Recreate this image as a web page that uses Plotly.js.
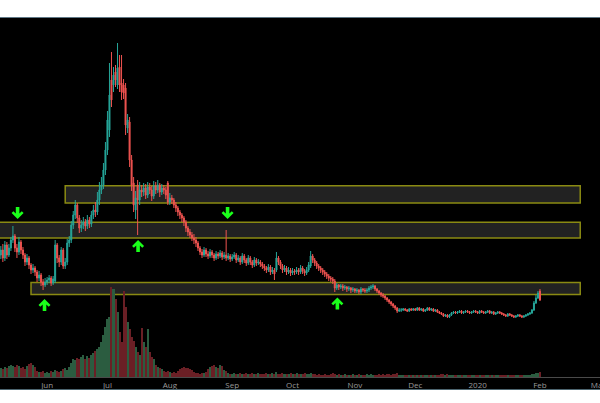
<!DOCTYPE html>
<html>
<head>
<meta charset="utf-8">
<script src="https://cdn.plot.ly/plotly-3.0.1.min.js"></script>
<style>
html,body{margin:0;padding:0;background:#ffffff;width:600px;height:403px;overflow:hidden;}
#frame{position:absolute;left:0;top:17px;width:600px;height:373px;box-sizing:border-box;border-top:1px solid #5f7886;border-bottom:1px solid #4d6670;background:#000;}
#chart{width:600px;height:371px;}
</style>
</head>
<body>
<div id="frame"><div id="chart"></div></div>
<script>
// ---- data (daily candles from 2019-05-09) ----
const startDate = '2019-05-09';
const opens = [
122,127,119,132,122,129,137,141,129,125,
135,127,122,115,119,112,107,109,105,99,
102,95,92,95,97,99,94,96,132,119,
115,127,111,115,134,137,152,162,172,159,
149,152,155,151,157,153,162,167,165,177,
187,192,207,227,247,297,292,305,292,310,
294,292,289,249,255,217,194,167,192,177,
187,185,189,182,190,187,181,191,187,192,
185,189,187,194,175,179,177,172,169,165,
162,159,155,149,145,142,139,137,134,129,
125,122,127,123,121,125,122,119,123,121,
124,120,122,119,121,118,120,122,117,119,
115,121,117,114,119,115,112,117,114,115,
113,111,109,107,110,105,107,107,119,115,
111,107,109,105,107,104,106,105,107,105,
109,106,104,107,111,121,117,114,111,109,
107,105,103,101,99,98,96,89,92,90,
91,89,90,88,89,87,88,86,87,85,
88,87,86,87,89,90,91,88,86,84,
82,81,79,77,75,73,71,69,66,67,
67,68,67,66,68,67,68,67,69,67,
68,66,67,69,67,68,66,67,65,64,
63,61,62,60,62,64,65,64,65,66,
64,65,66,65,64,65,66,65,64,66,
65,64,65,66,64,65,63,64,65,64,
63,62,61,63,62,61,60,61,62,61,
60,61,62,63,64,67,74,79,86];
const highs = [
131,133,136,135,133,140,151,143,133,140,
137,130,124,123,121,114,113,111,107,106,
104,98,99,100,102,101,101,137,134,122,
130,129,119,138,141,156,166,177,174,162,
157,160,158,162,160,166,172,175,185,195,
200,214,235,266,314,325,310,312,334,322,
322,298,294,263,260,222,200,186,197,195,
192,194,193,195,194,191,196,195,197,194,
193,192,190,196,184,182,179,175,171,167,
164,161,157,151,148,145,143,140,136,131,
128,130,129,126,128,127,124,126,125,127,
126,125,147,124,123,123,125,124,122,121,
124,123,119,122,121,117,120,119,118,117,
115,113,111,113,112,110,109,125,121,117,
113,112,111,110,109,109,108,110,109,112,
111,108,110,115,126,123,119,116,113,111,
109,107,105,103,101,100,98,94,93,93,
93,92,91,91,90,90,89,89,88,90,
89,89,89,91,92,93,92,89,87,85,
84,82,80,78,76,74,72,70,69,69,
69,69,68,69,69,69,69,70,70,69,
69,68,70,70,69,69,68,68,66,65,
64,63,63,63,65,66,66,66,67,67,
66,67,67,66,66,67,67,66,67,67,
66,66,67,67,66,66,65,66,66,65,
64,63,64,64,63,62,62,63,63,62,
62,63,64,65,68,76,82,86,88];
const lows = [
118,115,116,118,120,126,134,125,119,122,
123,118,111,112,108,103,104,101,95,96,
91,87,90,92,94,91,92,94,114,110,
112,108,108,112,130,134,148,158,154,144,
145,148,146,148,149,150,158,160,162,172,
183,188,202,222,240,270,285,290,288,285,
277,278,242,244,210,186,165,158,142,172,
180,181,178,179,183,176,178,183,184,180,
182,183,178,172,172,173,169,165,161,158,
155,151,145,141,139,136,133,130,126,122,
119,120,120,118,119,119,116,117,118,119,
117,118,116,117,115,116,118,114,115,112,
113,114,111,112,112,109,110,111,112,110,
108,106,104,105,102,103,97,105,112,108,
104,105,102,103,101,102,102,103,102,103,
103,101,102,105,109,114,111,108,106,104,
102,100,98,96,95,93,85,87,87,88,
86,87,85,86,84,85,84,84,83,83,
85,84,84,85,87,88,86,84,82,80,
79,77,75,73,71,69,67,64,65,65,
66,66,65,65,66,66,66,66,66,66,
65,65,66,66,66,65,65,64,63,62,
60,60,59,59,61,63,63,63,64,63,
63,64,64,63,63,64,64,63,63,64,
63,63,64,63,63,62,62,63,63,62,
61,60,60,61,60,59,59,60,60,59,
59,60,61,62,63,66,73,78,76];
const closes = [
127,119,132,122,129,137,141,129,125,135,
127,122,115,119,112,107,109,105,99,102,
95,92,95,97,99,94,98,132,119,115,
127,111,115,134,137,152,162,172,159,149,
152,155,151,157,153,162,167,165,177,187,
192,207,227,257,282,277,302,297,309,292,
285,284,252,257,217,192,172,179,177,187,
185,189,182,190,187,181,191,187,192,185,
189,187,182,175,179,177,172,169,165,162,
159,155,149,145,142,139,137,134,129,125,
122,127,123,121,125,122,119,123,121,124,
120,122,119,121,118,120,122,117,119,115,
121,117,114,119,115,112,117,114,115,113,
111,109,107,110,105,107,103,119,115,111,
107,109,105,107,104,106,105,107,105,109,
106,104,107,112,121,117,114,111,109,107,
105,103,101,99,98,96,89,92,90,91,
89,90,88,89,87,88,86,87,85,88,
87,86,87,89,90,91,88,86,84,82,
81,79,77,75,73,71,69,66,67,67,
68,67,66,68,67,68,67,69,67,68,
66,67,69,67,68,66,67,65,64,63,
61,62,60,62,64,65,64,65,66,64,
65,66,65,64,65,66,65,64,66,65,
64,65,66,64,65,63,64,65,64,63,
62,61,63,62,61,60,61,62,61,60,
61,62,63,64,67,74,79,84,77];
const volumes = [
9,8,10,9,11,12,11,10,12,11,
9,10,8,11,13,14,12,10,6,5,
5,6,4,5,4,6,5,7,6,5,
6,8,9,7,10,14,18,17,19,18,
20,22,18,21,19,22,24,26,28,30,
35,42,50,58,60,90,88,78,65,45,
35,86,70,55,48,40,36,30,25,22,
49,35,30,48,25,20,18,12,10,9,
8,6,5,6,5,4,5,4,6,8,
9,10,9,9,8,7,5,4,4,3,
4,4,5,8,10,11,12,10,9,12,
11,7,6,4,3,3,4,3,3,4,
3,3,4,3,3,4,3,3,4,3,
3,3,4,3,3,4,3,5,3,3,
4,3,3,3,4,3,3,4,3,3,
3,4,3,3,4,3,3,2,3,2,
2,3,2,2,3,4,3,2,3,2,
2,3,2,2,2,3,2,2,3,2,
2,2,3,2,3,2,2,2,3,2,
3,2,3,3,2,3,3,4,2,2,
2,2,2,2,2,2,2,2,2,2,
2,2,2,2,2,2,2,2,2,3,
3,2,3,2,2,2,2,2,2,2,
2,2,2,2,2,2,2,2,2,2,
2,2,2,2,2,2,2,2,2,2,
2,2,2,2,2,2,2,2,2,2,
2,2,2,2,3,3,4,4,5];

// x-axis tick labels
const tickDates = ['2019-06-01','2019-07-01','2019-08-01','2019-09-01','2019-10-01','2019-11-01','2019-12-01','2020-01-01','2020-02-01','2020-03-01'];
const tickLabels = ['Jun','Jul','Aug','Sep','Oct','Nov','Dec','2020','Feb','Mar'];

// support / resistance zones
const zoneStart = ['2019-06-10','2019-05-01','2019-05-24'];
const zoneEnd   = ['2020-02-21','2020-02-21','2020-02-21'];
const zoneTop   = [191.3,154.8,94.5];
const zoneBottom= [174,139,82.5];

// signal arrows
const arrowDates = ['2019-05-17 08:00','2019-08-29 17:00','2019-05-30 17:00','2019-07-16 05:00','2019-10-23 07:00'];
const arrowPrices = [164,164,72,131,73.5];
const arrowDirs = ['down','down','up','up','up'];

// ---- build ----
const dates = opens.map((_, i) => {
  const d = new Date(startDate + 'T00:00:00Z');
  d.setUTCDate(d.getUTCDate() + i);
  return d.toISOString().slice(0, 10);
});
const UP = '#26a69a', DOWN = '#ef5350';
const volColors = closes.map((c, i) => c >= opens[i] ? '#2b5c40' : '#6a1f25');

const volTrace = {
  type: 'bar', x: dates, y: volumes, yaxis: 'y2',
  marker: {color: volColors, line: {width: 0}},
  hoverinfo: 'skip'
};
const candle = {
  type: 'candlestick', x: dates, open: opens, high: highs, low: lows, close: closes,
  increasing: {line: {color: UP, width: 1}, fillcolor: UP},
  decreasing: {line: {color: DOWN, width: 1}, fillcolor: DOWN},
  whiskerwidth: 0
};

const shapes = [];
for (let k = 0; k < zoneStart.length; k++) {
  shapes.push({
    type: 'rect', xref: 'x', yref: 'y', layer: 'below',
    x0: zoneStart[k], x1: zoneEnd[k], y0: zoneBottom[k], y1: zoneTop[k],
    fillcolor: '#222222', line: {color: '#8a8a12', width: 1.5}
  });
}
const upPath = 'M0,6 L6,0 L4.2,-1.8 L1.8,0.6 L1.8,-6 L-1.8,-6 L-1.8,0.6 L-4.2,-1.8 L-6,0 Z';
const downPath = 'M0,-6 L6,0 L4.2,1.8 L1.8,-0.6 L1.8,6 L-1.8,6 L-1.8,-0.6 L-4.2,1.8 L-6,0 Z';
for (let k = 0; k < arrowDates.length; k++) {
  shapes.push({
    type: 'path', xref: 'x', yref: 'y', layer: 'above',
    xsizemode: 'pixel', ysizemode: 'pixel',
    xanchor: arrowDates[k], yanchor: arrowPrices[k],
    path: arrowDirs[k] === 'up' ? upPath : downPath,
    fillcolor: '#1aff1a', line: {width: 0}
  });
}

const layout = {
  width: 600, height: 371,
  margin: {l: 0, r: 0, t: 0, b: 12, pad: 0},
  paper_bgcolor: '#000000', plot_bgcolor: '#000000',
  showlegend: false,
  bargap: 0,
  font: {family: 'Open Sans, sans-serif', color: '#9a9a9a', size: 8},
  xaxis: {
    type: 'date', range: ['2019-05-08 14:00', '2020-03-01 20:00'],
    rangeslider: {visible: false},
    showgrid: false, zeroline: false,
    showline: true, linecolor: '#4a4a4a', linewidth: 1,
    ticks: '', tickvals: tickDates, ticktext: tickLabels,
    tickfont: {size: 8, color: '#9a9a9a'},
    ticklabeloverflow: 'allow'
  },
  yaxis: {range: [0, 359], visible: false, showgrid: false, zeroline: false, fixedrange: true},
  yaxis2: {range: [0, 359], overlaying: 'y', visible: false, showgrid: false, zeroline: false},
  shapes: shapes
};

Plotly.newPlot('chart', [volTrace, candle], layout, {displayModeBar: false, staticPlot: true});
</script>
</body>
</html>
